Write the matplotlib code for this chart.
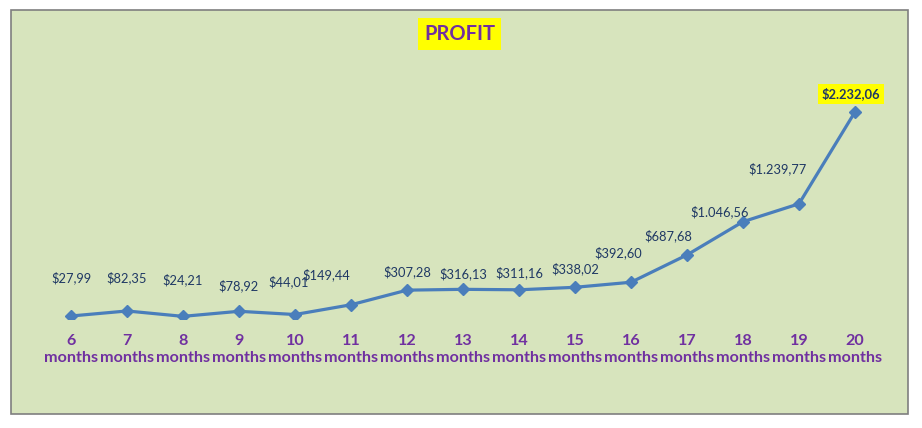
import matplotlib.pyplot as plt
from matplotlib.patches import Rectangle

months = ["6", "7", "8", "9", "10", "11", "12", "13", "14", "15", "16", "17", "18", "19", "20"]
profit = [27.99, 82.35, 24.21, 78.92, 44.01, 149.44, 307.28, 316.13, 311.16,
          338.02, 392.60, 687.68, 1046.56, 1239.77, 2232.06]
profit_text = ["$27,99", "$82,35", "$24,21", "$78,92", "$44,01", "$149,44", "$307,28",
               "$316,13", "$311,16", "$338,02", "$392,60", "$687,68", "$1.046,56",
               "$1.239,77", "$2.232,06"]

# where Excel left each data label (pixels from its point)
label_shift = [(0, 38), (0, 33), (0, 37), (0, 26), (-6, 33), (-25, 30), (0, 18), (0, 16),
               (0, 17), (0, 19), (-13, 30), (-19, 19), (-23, 10), (-21, 35), (-4, 18)]

purple = "#7030A0"
navy = "#1F3864"
W, H = 922, 428

fig = plt.figure(figsize=(W / 100, H / 100), dpi=100)
fig.patch.set_facecolor("white")
fig.patches.append(Rectangle((11 / W, 1 - 414 / H), 897 / W, 404 / H, transform=fig.transFigure,
                             facecolor="#D7E4BD", edgecolor="#7F7F7F", linewidth=1.2,
                             zorder=-10))

ax = fig.add_axes([43 / W, 1 - 318.6 / H, 840 / W, 231.5 / H])
ax.patch.set_alpha(0)

ax.plot(months, profit, color="#4A7EBB", linewidth=2.3, marker="D", markersize=6)
ax.set_xlim(-0.5, len(months) - 0.5)
ax.set_ylim(0, 2500)

for i, (v, t) in enumerate(zip(profit, profit_text)):
    dx, dy = label_shift[i]
    if i == len(profit) - 1:
        ax.annotate(t, (i, v), xytext=(dx, dy), textcoords="offset pixels", ha="center",
                    va="center", fontsize=9.3, fontweight="bold", color=navy, family="Lato",
                    bbox=dict(boxstyle="square,pad=0.3", facecolor="yellow", edgecolor="none"))
    else:
        ax.annotate(t, (i, v), xytext=(dx, dy), textcoords="offset pixels", ha="center",
                    va="center", fontsize=9.3, color=navy, family="Lato")

ax.set_xticks(range(len(months)))
ax.set_xticklabels([m + "\nmonths" for m in months], fontsize=11.6, fontweight="bold",
                   color=purple, family="Lato", linespacing=1.3)
ax.tick_params(axis="x", length=0, pad=11)
ax.set_yticks([])
for s in ax.spines.values():
    s.set_visible(False)

fig.text(459.5 / W, 1 - 34 / H, "PROFIT", ha="center", va="center", fontsize=14.5,
         fontweight="bold", color=purple, family="Lato",
         bbox=dict(boxstyle="square,pad=0.3", facecolor="yellow", edgecolor="none"))

fig.savefig("out.png", dpi=100, facecolor=fig.get_facecolor())
